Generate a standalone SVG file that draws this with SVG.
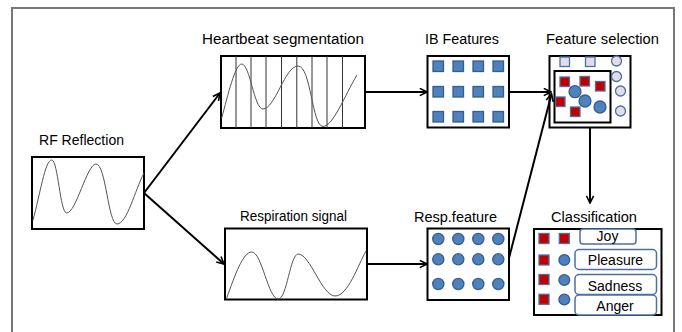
<svg xmlns="http://www.w3.org/2000/svg" width="682" height="332" viewBox="0 0 682 332">
<defs>
<style>
.box{fill:#fff;stroke:#000;stroke-width:2}
.wave{fill:none;stroke:#555;stroke-width:1}
.seg{stroke:#333;stroke-width:1}
.lbl{font-family:"Liberation Sans",Arial,sans-serif;font-size:14px;fill:#000}
.conn{fill:none;stroke:#000;stroke-width:2}
.bsq{fill:#4f81bd;stroke:#385d8a;stroke-width:1.3}
.rsq{fill:#c00000;stroke:#4f6fa0;stroke-width:1.3}
.lsq{fill:#e0dcea;stroke:#4f6fa0;stroke-width:1.3}
.tag{fill:#fff;stroke:#4f6fa0;stroke-width:1.5}
</style>
<marker id="arr" viewBox="0 0 10 10" refX="9" refY="5" markerWidth="9" markerHeight="9" orient="auto" markerUnits="userSpaceOnUse">
<path d="M1,1 L9,5 L1,9" fill="none" stroke="#000" stroke-width="1.8"/>
</marker>
</defs>
<rect width="682" height="332" fill="#fff"/>
<rect x="12" y="8" width="662" height="340" fill="none" stroke="#777" stroke-width="2"/>

<g id="rf">
<text class="lbl" x="39" y="145" textLength="85" lengthAdjust="spacingAndGlyphs">RF Reflection</text>
<rect class="box" x="32" y="157" width="112" height="72"/>
<path class="wave" d="M33,220 C40,195 45,160 51.7,160 C58,160 60,213 66.7,213 C76,213 87,164 96,164 C106,164 108,224 117,224 C127,224 135,190 144,173"/>
</g>

<g id="heartbeat">
<text class="lbl" x="202" y="44" textLength="162" lengthAdjust="spacingAndGlyphs">Heartbeat segmentation</text>
<rect class="box" x="221" y="56" width="144" height="72"/>
<g class="seg">
<line x1="236" y1="56" x2="236" y2="128"/>
<line x1="251" y1="56" x2="251" y2="128"/>
<line x1="266" y1="56" x2="266" y2="128"/>
<line x1="281.5" y1="56" x2="281.5" y2="128"/>
<line x1="296.8" y1="56" x2="296.8" y2="128"/>
<line x1="312" y1="56" x2="312" y2="128"/>
<line x1="327" y1="56" x2="327" y2="128"/>
<line x1="342.5" y1="56" x2="342.5" y2="128"/>
</g>
<path class="wave" d="M221.7,118 C228,95 235,64 241.7,64 C250,64 254,109 263,109 C275,109 285,66 298,66 C311,66 312,126.5 323,126.5 C333,126.5 345,95 357,75"/>
</g>

<g id="respiration">
<text class="lbl" x="240" y="221" textLength="107" lengthAdjust="spacingAndGlyphs">Respiration signal</text>
<rect class="box" x="225" y="228.5" width="142" height="71"/>
<path class="wave" d="M226.7,298 C235,275 243,252 251.7,252 C262,252 268,299 278.3,299 C287,299 290,254 298.3,254 C310,254 322,296 335,296 C348,296 358,265 366,251"/>
</g>

<g id="ib-features">
<text class="lbl" x="425" y="44" textLength="74" lengthAdjust="spacingAndGlyphs">IB Features</text>
<rect class="box" x="427.5" y="56" width="81.5" height="71.5"/>
<g class="bsq">
<rect x="433" y="61" width="10.5" height="10.5"/><rect x="453" y="61" width="10.5" height="10.5"/><rect x="473" y="61" width="10.5" height="10.5"/><rect x="493" y="61" width="10.5" height="10.5"/>
<rect x="433" y="86.5" width="10.5" height="10.5"/><rect x="453" y="86.5" width="10.5" height="10.5"/><rect x="473" y="86.5" width="10.5" height="10.5"/><rect x="493" y="86.5" width="10.5" height="10.5"/>
<rect x="433" y="111.5" width="10.5" height="10.5"/><rect x="453" y="111.5" width="10.5" height="10.5"/><rect x="473" y="111.5" width="10.5" height="10.5"/><rect x="493" y="111.5" width="10.5" height="10.5"/>
</g>
</g>

<g id="resp-feature">
<text class="lbl" x="414" y="222" textLength="83" lengthAdjust="spacingAndGlyphs">Resp.feature</text>
<rect class="box" x="427.5" y="228.5" width="81.5" height="71.5"/>
<g class="bsq">
<circle cx="438.3" cy="239" r="5.6"/><circle cx="458.3" cy="239" r="5.6"/><circle cx="478.3" cy="239" r="5.6"/><circle cx="498.3" cy="239" r="5.6"/>
<circle cx="438.3" cy="259.3" r="5.6"/><circle cx="458.3" cy="259.3" r="5.6"/><circle cx="478.3" cy="259.3" r="5.6"/><circle cx="498.3" cy="259.3" r="5.6"/>
<circle cx="438.3" cy="284" r="5.6"/><circle cx="458.3" cy="284" r="5.6"/><circle cx="478.3" cy="284" r="5.6"/><circle cx="498.3" cy="284" r="5.6"/>
</g>
</g>

<g id="feature-selection">
<text class="lbl" x="546" y="44" textLength="113" lengthAdjust="spacingAndGlyphs">Feature selection</text>
<rect class="box" x="549.5" y="56" width="81" height="71.5"/>
<rect class="box" x="554.5" y="71" width="56" height="51.5"/>
<rect class="lsq" x="560" y="57" width="9.5" height="9.5"/>
<rect class="lsq" x="585.5" y="57" width="9.5" height="9.5"/>
<circle class="lsq" cx="616.5" cy="61" r="5"/>
<circle class="lsq" cx="616.5" cy="76.5" r="5"/>
<circle class="lsq" cx="620.5" cy="91" r="5"/>
<circle class="lsq" cx="620.5" cy="111" r="5"/>
<rect class="rsq" x="560" y="77" width="9.5" height="9.5"/>
<rect class="rsq" x="580" y="76.5" width="9.5" height="9.5"/>
<rect class="rsq" x="595.5" y="81.5" width="9.5" height="9.5"/>
<rect class="rsq" x="555.5" y="97" width="9.5" height="9.5"/>
<rect class="rsq" x="570.5" y="107" width="9.5" height="9.5"/>
<circle class="bsq" cx="575" cy="91.7" r="6"/>
<circle class="bsq" cx="585" cy="101" r="6"/>
<circle class="bsq" cx="600" cy="107" r="6"/>
</g>

<g id="classification">
<text class="lbl" x="551" y="222" textLength="86" lengthAdjust="spacingAndGlyphs">Classification</text>
<rect class="box" x="534" y="229" width="127.5" height="86"/>
<rect class="rsq" x="539" y="233.5" width="10" height="10"/>
<rect class="rsq" x="559.3" y="233.5" width="10" height="10"/>
<rect class="rsq" x="539" y="255" width="10" height="10"/>
<rect class="rsq" x="539" y="274.5" width="10" height="10"/>
<rect class="rsq" x="539" y="294.3" width="10" height="10"/>
<circle class="bsq" cx="564.3" cy="260" r="5.4"/>
<circle class="bsq" cx="564.3" cy="280" r="5.4"/>
<circle class="bsq" cx="564.3" cy="299.5" r="5.4"/>
<rect class="tag" x="580" y="229" width="56" height="15" rx="3"/>
<rect class="tag" x="575" y="249.5" width="81.5" height="20" rx="4"/>
<rect class="tag" x="575" y="274.5" width="81.5" height="20" rx="4"/>
<rect class="tag" x="575" y="295" width="81.5" height="20" rx="4"/>
<text class="lbl" x="607.5" y="241" text-anchor="middle">Joy</text>
<text class="lbl" x="615.5" y="265" text-anchor="middle">Pleasure</text>
<text class="lbl" x="615" y="291" text-anchor="middle">Sadness</text>
<text class="lbl" x="615" y="311" text-anchor="middle">Anger</text>
</g>

<g id="connectors">
<line class="conn" x1="144" y1="193" x2="220" y2="93" marker-end="url(#arr)"/>
<line class="conn" x1="144" y1="193" x2="224" y2="264" marker-end="url(#arr)"/>
<line class="conn" x1="365" y1="92" x2="427" y2="92" marker-end="url(#arr)"/>
<line class="conn" x1="367" y1="264" x2="427" y2="264" marker-end="url(#arr)"/>
<line class="conn" x1="509" y1="92" x2="551" y2="92" marker-end="url(#arr)"/>
<line class="conn" x1="509" y1="258" x2="551.5" y2="94" marker-end="url(#arr)"/>
<line class="conn" x1="590" y1="127.5" x2="590" y2="203" marker-end="url(#arr)"/>
</g>
</svg>
